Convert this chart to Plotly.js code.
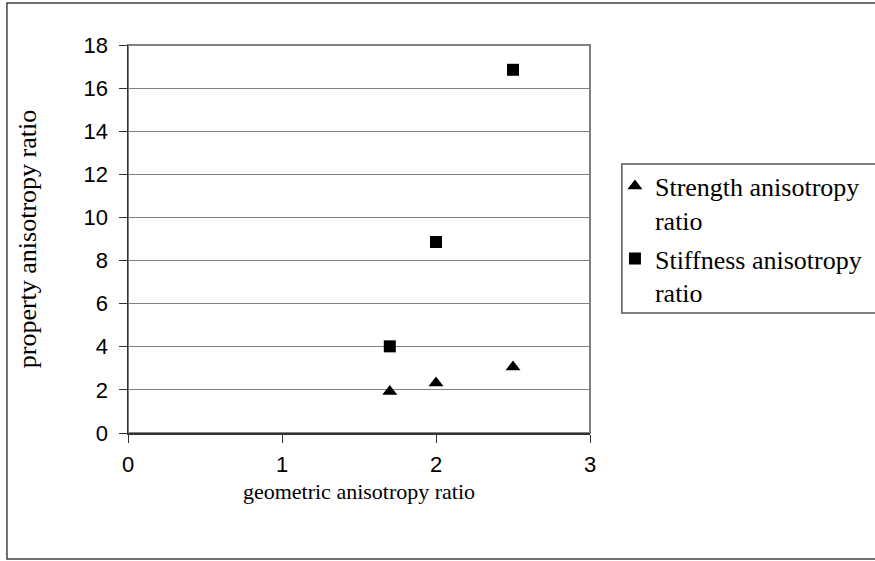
<!DOCTYPE html>
<html>
<head>
<meta charset="utf-8">
<script src="https://cdn.plot.ly/plotly-3.0.1.min.js"></script>
<style>
  html, body { margin: 0; padding: 0; background: #ffffff; }
  #chart { width: 875px; height: 561px; }
</style>
</head>
<body>
<div id="chart"></div>
<script>
// Data
const geometricRatio = [1.7, 2.0, 2.5];
const strengthRatio = [1.93, 2.32, 3.06];
const stiffnessRatio = [4.02, 8.86, 16.85];
const seriesNames = ["Strength anisotropy<br>ratio", "Stiffness anisotropy<br>ratio"];
const xTicks = [0, 1, 2, 3];
const yTicks = [0, 2, 4, 6, 8, 10, 12, 14, 16, 18];

const serif = "'Liberation Serif', 'Times New Roman', serif";
const sans = "'Liberation Sans', Arial, sans-serif";

const traces = [
  {
    x: geometricRatio, y: strengthRatio, name: seriesNames[0],
    type: "scatter", mode: "markers", legendgroup: "a",
    marker: { symbol: "triangle-up", size: 13, color: "#000000" }
  },
  {
    x: geometricRatio, y: stiffnessRatio, name: seriesNames[1],
    type: "scatter", mode: "markers", legendgroup: "b",
    marker: { symbol: "square", size: 12, color: "#000000" }
  }
];

const layout = {
  width: 875, height: 561,
  margin: { l: 128, r: 285, t: 45, b: 128, pad: 0, autoexpand: false },
  paper_bgcolor: "#ffffff", plot_bgcolor: "#ffffff",
  showlegend: true,
  xaxis: {
    range: [0, 3], tickvals: xTicks, ticktext: xTicks.map(String),
    showgrid: false, zeroline: false,
    showline: true, linecolor: "#333333", linewidth: 2,
    ticks: "outside", ticklen: 8, tickcolor: "#333333", tickwidth: 1,
    ticklabelstandoff: 3,
    tickfont: { family: sans, size: 22, color: "#000000" },
    title: { text: "geometric anisotropy ratio", font: { family: serif, size: 22, color: "#000000" }, standoff: 7 },
    fixedrange: true
  },
  yaxis: {
    range: [0, 18], tickvals: yTicks, ticktext: yTicks.map(String),
    showgrid: true, gridcolor: "#808080", gridwidth: 1, zeroline: false,
    showline: true, linecolor: "#333333", linewidth: 1.5,
    ticks: "outside", ticklen: 8, tickcolor: "#333333", tickwidth: 1,
    ticklabelstandoff: 6,
    tickfont: { family: sans, size: 22, color: "#000000" },
    title: { text: "property anisotropy ratio", font: { family: serif, size: 26, color: "#000000" }, standoff: 39 },
    fixedrange: true
  },
  legend: {
    x: 1.054, y: 0.697, xanchor: "left", yanchor: "top",
    bgcolor: "rgba(0,0,0,0)", borderwidth: 0, valign: "top",
    font: { family: serif, size: 26, color: "#000000" },
    tracegroupgap: 2
  },
  shapes: [
    { type: "rect", xref: "paper", yref: "paper", x0: 0, x1: 1, y0: 0, y1: 1,
      line: { color: "#808080", width: 2 }, layer: "below" },
    { type: "rect", xref: "paper", yref: "paper", x0: 1.069, x1: 1.66, y0: 0.309, y1: 0.693,
      line: { color: "#555555", width: 1.5 } },
    { type: "rect", xref: "paper", yref: "paper", x0: -0.262, x1: 1.66, y0: -0.325, y1: 1.108,
      line: { color: "#404040", width: 1.5 } }
  ]
};

Plotly.newPlot("chart", traces, layout, { displayModeBar: false, staticPlot: true });
</script>
</body>
</html>
